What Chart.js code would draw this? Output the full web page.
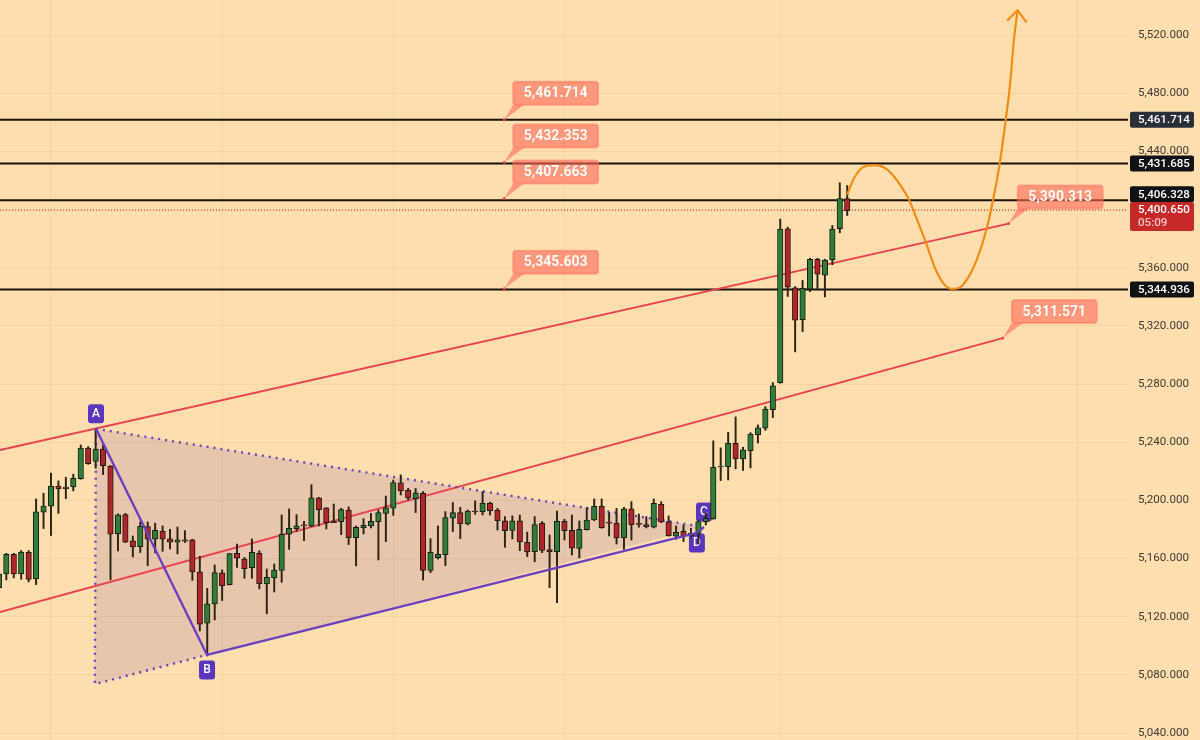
<!DOCTYPE html>
<html lang="en">

<head>
    <meta charset="UTF-8">
    <title>Price chart</title>
    <script src="https://cdn.jsdelivr.net/npm/chart.js@4/dist/chart.umd.min.js"></script>
    <style>
        html, body { margin: 0; padding: 0; background: #FFDEAD; }
        canvas { display: block; }
    </style>
</head>

<body>
    <canvas id="chart" width="1200" height="740"></canvas>
    <script>
        // candles, the first one is cut off by the left edge
        const opens = [5140, 5149.4, 5162.9, 5149.4, 5164.3, 5146.0, 5191.8, 5196.0, 5209.9, 5207.9, 5209.2, 5215.0, 5235.9, 5226.7, 5235.2, 5223.5, 5177.1, 5190.2, 5172.1, 5168.2, 5182.0, 5173.3, 5178.8, 5173.5, 5171.2, 5172.8, 5172.8, 5150.8, 5115.5, 5128.8, 5150.1, 5142.1, 5163.6, 5159.7, 5153.7, 5163.6, 5142.5, 5146.6, 5151.9, 5176.7, 5180.6, 5183.1, 5182.2, 5201.7, 5194.8, 5185.6, 5185.4, 5193.4, 5174.4, 5181.3, 5182.4, 5185.4, 5191.1, 5194.6, 5212.0, 5206.9, 5201.2, 5204.9, 5151.9, 5160.6, 5162.7, 5187.7, 5191.6, 5183.8, 5192.7, 5192.3, 5198.2, 5193.4, 5186.0, 5179.4, 5186.0, 5171.1, 5164.7, 5184.2, 5166.1, 5164.7, 5185.6, 5179.4, 5167.0, 5179.9, 5186.5, 5195.9, 5185.1, 5184.2, 5174.1, 5194.1, 5184.2, 5183.3, 5181.5, 5197.3, 5185.4, 5175.3, 5178.7, 5175.7, 5177.3, 5185.4, 5187.2, 5223.0, 5223.2, 5239.3, 5228.5, 5234.2, 5245.2, 5249.6, 5262.4, 5281.0, 5386.7, 5346.1, 5324.3, 5345.2, 5365.8, 5354.8, 5365.6, 5386.9, 5407.6];
        const closes = [5149.4, 5162.9, 5149.4, 5164.5, 5145.7, 5192.1, 5196.0, 5209.9, 5207.9, 5209.2, 5215.2, 5235.9, 5225.3, 5235.2, 5223.9, 5176.7, 5190.0, 5171.2, 5168.0, 5182.2, 5173.3, 5179.4, 5173.3, 5171.2, 5172.8, 5171.9, 5150.8, 5114.8, 5128.8, 5150.3, 5141.4, 5163.4, 5160.2, 5153.0, 5164.3, 5142.7, 5147.1, 5152.1, 5176.7, 5180.8, 5182.4, 5182.6, 5201.7, 5193.6, 5184.7, 5184.7, 5193.6, 5174.4, 5181.5, 5182.9, 5185.6, 5191.6, 5194.8, 5212.2, 5206.5, 5201.7, 5205.1, 5151.9, 5164.3, 5162.9, 5188.1, 5191.6, 5183.8, 5192.7, 5192.3, 5198.2, 5192.9, 5186.0, 5179.2, 5186.0, 5171.4, 5164.5, 5183.3, 5165.6, 5164.7, 5185.6, 5179.2, 5167.2, 5180.1, 5186.5, 5195.9, 5181.2, 5184.4, 5174.1, 5194.1, 5183.3, 5183.5, 5181.9, 5198.0, 5185.1, 5175.7, 5178.0, 5175.7, 5177.3, 5185.4, 5187.7, 5222.8, 5223.5, 5239.3, 5228.5, 5234.7, 5245.5, 5249.8, 5262.7, 5278.7, 5386.5, 5346.6, 5323.9, 5345.9, 5365.8, 5355.5, 5365.2, 5386.5, 5407.6, 5399.3];
        const highs = [5150, 5163.6, 5163.6, 5165.5, 5165.5, 5201.0, 5204.9, 5218.7, 5213.4, 5215.9, 5218.0, 5238.1, 5237.0, 5248.5, 5238.1, 5223.9, 5190.7, 5191.1, 5175.5, 5185.2, 5185.2, 5184.3, 5182.4, 5180.1, 5181.7, 5179.2, 5173.3, 5161.6, 5139.5, 5155.6, 5152.2, 5163.6, 5170.0, 5160.8, 5173.5, 5165.4, 5152.8, 5156.3, 5190.0, 5194.1, 5190.2, 5185.6, 5210.8, 5202.1, 5195.0, 5197.5, 5194.6, 5195.5, 5182.4, 5187.4, 5191.1, 5193.4, 5203.0, 5214.0, 5217.5, 5208.3, 5208.1, 5206.0, 5173.7, 5182.4, 5192.3, 5198.5, 5195.2, 5193.4, 5199.6, 5206.0, 5198.7, 5194.5, 5188.8, 5189.3, 5189.9, 5178.2, 5188.8, 5185.4, 5176.2, 5192.7, 5187.0, 5189.9, 5185.8, 5195.0, 5201.0, 5201.0, 5191.6, 5194.5, 5195.2, 5199.1, 5190.6, 5188.8, 5201.0, 5199.1, 5189.3, 5182.4, 5183.1, 5180.8, 5186.5, 5191.6, 5240.9, 5236.1, 5246.8, 5257.4, 5236.5, 5246.6, 5251.9, 5264.5, 5281.0, 5393.4, 5387.9, 5347.0, 5351.2, 5366.5, 5366.5, 5365.8, 5389.0, 5418.4, 5416.5];
        const lows = [5138, 5145.3, 5146.7, 5145.7, 5143.9, 5142.1, 5180.6, 5175.8, 5191.1, 5201.2, 5206.5, 5214.5, 5224.8, 5222.1, 5217.7, 5145.3, 5165.2, 5171.0, 5161.1, 5164.1, 5155.1, 5163.9, 5165.0, 5166.6, 5163.2, 5171.0, 5145.0, 5110.2, 5093.0, 5117.8, 5131.1, 5141.8, 5153.8, 5146.4, 5146.4, 5139.1, 5122, 5137.0, 5143.6, 5166.3, 5178.7, 5172.3, 5181.9, 5182.4, 5180.3, 5184.7, 5176.4, 5169.6, 5154.9, 5176.9, 5181.0, 5159.0, 5171.6, 5189.7, 5203.7, 5200.3, 5191.6, 5145.2, 5150.3, 5159.7, 5155.1, 5178.5, 5173.7, 5183.1, 5190.4, 5190.0, 5189.9, 5179.6, 5167.7, 5173.4, 5165.4, 5161.3, 5157.8, 5164.0, 5140.0, 5129.6, 5172.7, 5162.4, 5160.4, 5179.6, 5186.0, 5180.8, 5175.5, 5170.0, 5166.3, 5172.7, 5181.5, 5181.0, 5181.0, 5184.7, 5175.3, 5173.2, 5171.6, 5175.0, 5170.0, 5183.1, 5187.0, 5213.6, 5214.0, 5221.6, 5220.5, 5222.3, 5239.5, 5248.2, 5256.9, 5280.5, 5340.2, 5302.1, 5316.1, 5343.6, 5344.8, 5339.9, 5362.0, 5384.0, 5395.9];

        // y axis
        const priceTicks = [5040, 5080, 5120, 5160, 5200, 5240, 5280, 5320, 5360, 5400, 5440, 5480, 5520];
        const timeGrid = [6, 29, 52, 75, 104, 144];

        // horizontal levels
        const levels = [5461.714, 5431.685, 5406.328, 5344.936];
        const lastPrice = 5399.6;

        // rising channel
        const upperX = [-0.85, 134.7];
        const upperY = [5234.7, 5390.313];
        const lowerX = [-0.85, 133.9];
        const lowerY = [5123.2, 5311.571];

        // triangle pattern
        const patternNames = ['A', 'B', 'C', 'D'];
        const patternX = [12.05, 26.97, 93.75, 92.8];
        const patternY = [5249.2, 5093.7, 5181.7, 5177.6];
        const cornerX = 11.9;
        const cornerY = 5073.7;

        // forecast path
        const pathX = [113.0, 113.8, 114.7, 115.6, 116.7, 117.85, 118.97, 120.1, 121.2, 122.3, 123.6, 124.8, 125.9, 127.0, 127.9, 129.05, 130.4, 131.7, 132.6, 133.5, 134.3, 134.9, 135.4, 135.9];
        const pathY = [5410.2, 5420.5, 5427.4, 5430.1, 5430.6, 5429.2, 5424.6, 5417.0, 5407.9, 5394.1, 5376.9, 5359.7, 5349.4, 5345.5, 5345.9, 5351.7, 5365.4, 5386.1, 5406.7, 5431.9, 5461.7, 5487.0, 5516.8, 5537.0];
        const arrowX = [134.5, 135.9, 137.1];
        const arrowY = [5530.1, 5537.0, 5528.7];

        // price notes
        const noteX = [66.9, 66.9, 66.9, 66.9, 134.7, 133.9];
        const noteY = [5461.714, 5432.353, 5407.663, 5345.603, 5390.313, 5311.571];

        const X_MIN = -0.85, X_MAX = 150.73, Y_MIN = 5035.2, Y_MAX = 5544.1;
        const PURPLE = '#6a3fc0', RED_LINE = '#e8434f', ORANGE = '#ef8c13';

        const money = v => v.toLocaleString('en-US', { minimumFractionDigits: 3, maximumFractionDigits: 3 });
        const pts = (xs, ys) => xs.map((x, i) => ({ x: x, y: ys[i] }));
        const line = (data, color, width, order, extra) => Object.assign({
            type: 'line', data: data, borderColor: color, borderWidth: width, order: order,
            pointRadius: 0, fill: false, tension: 0
        }, extra);

        const A = pts([patternX[0]], [patternY[0]])[0];
        const B = pts([patternX[1]], [patternY[1]])[0];
        const C = pts([patternX[2]], [patternY[2]])[0];
        const D = pts([patternX[3]], [patternY[3]])[0];
        const corner = { x: cornerX, y: cornerY };

        const datasets = [
            // shaded triangle
            line([A, C, corner, A], 'rgba(0,0,0,0)', 0, 20, { fill: { target: 'shape' }, backgroundColor: 'rgba(103,58,183,0.15)' }),
            line([{ x: X_MIN, y: lastPrice }, { x: X_MAX, y: lastPrice }], '#b71c1c', 1, 19, { borderDash: [1, 2] })
        ];
        levels.forEach(v => datasets.push(line([{ x: X_MIN, y: v }, { x: X_MAX, y: v }], '#14120c', 2, 18)));
        datasets.push(line(pts(upperX, upperY), RED_LINE, 2, 17));
        datasets.push(line(pts(lowerX, lowerY), RED_LINE, 2, 17));
        datasets.push(line([A, C], PURPLE, 2.4, 16, { borderDash: [2, 5] }));
        datasets.push(line([A, corner, B], PURPLE, 2.4, 16, { borderDash: [2, 5] }));

        const wickIndex = datasets.length;
        datasets.push({
            type: 'bar', order: 10, grouped: false, barThickness: 1.3, backgroundColor: '#2a2416',
            data: opens.map((_, i) => ({ x: i - 1, y: [lows[i], highs[i]] }))
        });
        datasets.push({
            type: 'bar', order: 9, grouped: false, barThickness: 5.5, borderWidth: 1, borderSkipped: false, borderColor: '#1b1b10',
            backgroundColor: opens.map((o, i) => closes[i] >= o ? '#2e7d3a' : '#b3242b'),
            data: opens.map((o, i) => ({ x: i - 1, y: [o, closes[i]] }))
        });

        datasets.push(line([A, B, D], PURPLE, 2.4, 5));
        datasets.push(line([D, C], PURPLE, 2.4, 5));
        datasets.push(line(pts(pathX, pathY), ORANGE, 2.2, 4, { cubicInterpolationMode: 'monotone' }));
        datasets.push(line(pts(arrowX, arrowY), ORANGE, 2.2, 4));

        function roundBox(ctx, x, y, w, h, r) {
            ctx.beginPath();
            ctx.roundRect(x, y, w, h, r);
        }

        function drawBadges(chart) {
            const ctx = chart.ctx, sx = chart.scales.x, sy = chart.scales.y;
            const shift = { A: -15, B: 15, C: -15, D: 10 };
            ctx.save();
            ctx.font = '500 12px Roboto';
            ctx.textAlign = 'center';
            ctx.textBaseline = 'middle';
            patternNames.forEach((name, i) => {
                const px = sx.getPixelForValue(patternX[i]);
                const py = sy.getPixelForValue(patternY[i]) + shift[name];
                ctx.fillStyle = '#5a36bd';
                roundBox(ctx, px - 8, py - 9.5, 16, 19, 3);
                ctx.fill();
                ctx.fillStyle = '#ffffff';
                ctx.fillText(name, px, py + 0.5);
            });
            ctx.restore();
        }

        function drawNotes(chart) {
            const ctx = chart.ctx, sx = chart.scales.x, sy = chart.scales.y;
            ctx.save();
            ctx.textAlign = 'center';
            ctx.textBaseline = 'middle';
            noteX.forEach((nx, i) => {
                const px = sx.getPixelForValue(nx), py = sy.getPixelForValue(noteY[i]);
                const left = px + 9, bottom = py - 15;
                ctx.fillStyle = 'rgba(255,105,90,0.6)';
                ctx.strokeStyle = 'rgba(255,105,90,0.45)';
                ctx.lineWidth = 2;
                roundBox(ctx, left, bottom - 23, 85, 23, 3);
                ctx.fill();
                ctx.stroke();
                ctx.beginPath();
                ctx.moveTo(px, py);
                ctx.lineTo(left, bottom);
                ctx.lineTo(left + 11, bottom);
                ctx.closePath();
                ctx.fill();
                ctx.fillStyle = '#e8434f';
                ctx.beginPath();
                ctx.arc(px, py, 1.5, 0, Math.PI * 2);
                ctx.fill();
                ctx.fillStyle = 'rgba(255,255,255,0.95)';
                ctx.font = 'bold 14px Roboto';
                ctx.fillText(money(noteY[i]), left + 42.5, bottom - 11);
            });
            ctx.restore();
        }

        function drawPriceTags(chart) {
            const ctx = chart.ctx, sy = chart.scales.y;
            const tagBg = ['#2a2e36', '#101114', '#101114', '#101114'];
            const tagShift = [0, 0, -6, 0];
            ctx.save();
            ctx.textBaseline = 'middle';
            ctx.font = '500 11.6px Roboto';
            levels.forEach((v, i) => {
                const py = sy.getPixelForValue(v) + tagShift[i];
                ctx.fillStyle = tagBg[i];
                roundBox(ctx, 1130, py - 8, 64, 16, 2);
                ctx.fill();
                ctx.fillStyle = '#ffffff';
                ctx.fillText(money(v), 1138, py + 0.5);
            });
            const top = sy.getPixelForValue(lastPrice) - 8;
            ctx.fillStyle = '#c62828';
            roundBox(ctx, 1130, top, 64, 29, 2);
            ctx.fill();
            ctx.fillStyle = '#ffffff';
            ctx.fillText(money(5400.650), 1138, top + 8);
            ctx.fillStyle = '#f5c6c6';
            ctx.fillText('05:09', 1138, top + 21);
            ctx.restore();
        }

        const overlay = {
            id: 'overlay',
            beforeDatasetDraw(chart, args) {
                if (args.index === wickIndex) drawBadges(chart);
            },
            afterDraw(chart) {
                drawNotes(chart);
                drawPriceTags(chart);
            }
        };

        new Chart(document.getElementById('chart').getContext('2d'), {
            type: 'bar',
            data: { datasets: datasets },
            plugins: [overlay],
            options: {
                responsive: false,
                animation: false,
                events: [],
                layout: { padding: 0 },
                plugins: { legend: { display: false }, tooltip: { enabled: false } },
                scales: {
                    x: {
                        type: 'linear', min: X_MIN, max: X_MAX, offset: false,
                        afterBuildTicks: s => { s.ticks = timeGrid.map(v => ({ value: v })); },
                        afterFit: s => { s.height = 0; s.paddingLeft = 0; s.paddingRight = 0; },
                        ticks: { display: false },
                        grid: { offset: false, drawTicks: false, color: 'rgba(170,120,60,0.1)', lineWidth: 1 },
                        border: { display: false }
                    },
                    y: {
                        position: 'right', min: Y_MIN, max: Y_MAX,
                        afterBuildTicks: s => { s.ticks = priceTicks.map(v => ({ value: v })); },
                        afterFit: s => { s.width = 72; s.paddingTop = 0; s.paddingBottom = 0; },
                        ticks: {
                            padding: 10, color: '#3c3a35', font: { family: 'Roboto', size: 11.6 },
                            callback: v => money(v)
                        },
                        grid: { drawTicks: false, color: 'rgba(170,120,60,0.1)', lineWidth: 1 },
                        border: { display: false }
                    }
                }
            }
        });
    </script>
</body>

</html>
